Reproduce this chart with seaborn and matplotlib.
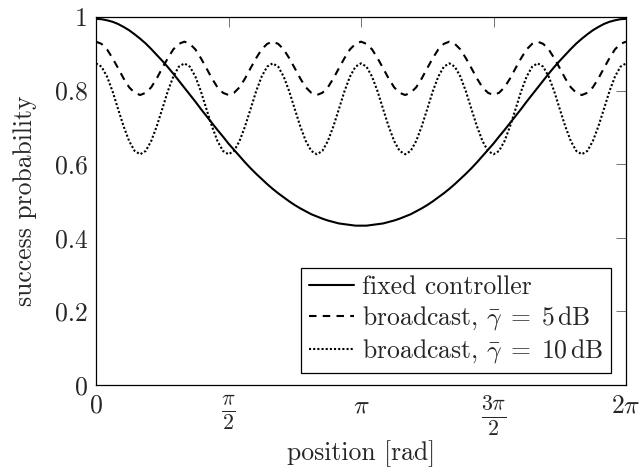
import numpy as np
import pandas as pd
import matplotlib
matplotlib.use("Agg")
import matplotlib.pyplot as plt
import seaborn as sns

# ---- data (positions 0..2pi, step pi/48) ----
n_points = 97
fixed_half = [0.995, 0.994, 0.991, 0.987, 0.981, 0.973, 0.964, 0.953, 0.941, 0.928,
              0.913, 0.897, 0.881, 0.864, 0.846, 0.827, 0.808, 0.789, 0.770, 0.750,
              0.731, 0.712, 0.693, 0.675, 0.656, 0.639, 0.622, 0.605, 0.589, 0.574,
              0.560, 0.546, 0.533, 0.521, 0.510, 0.499, 0.489, 0.480, 0.472, 0.464,
              0.458, 0.452, 0.447, 0.443, 0.439, 0.437, 0.435, 0.433, 0.433]
fixed_controller = fixed_half + fixed_half[-2::-1]

broadcast_5dB = [
    0.933, 0.927, 0.912, 0.888, 0.861, 0.833, 0.809, 0.794, 0.788, 0.794, 0.809, 0.833, 0.861, 0.888, 0.912, 0.927,
    0.933, 0.927, 0.912, 0.888, 0.861, 0.833, 0.809, 0.794, 0.788, 0.794, 0.809, 0.833, 0.861, 0.888, 0.912, 0.927,
    0.933, 0.927, 0.912, 0.888, 0.861, 0.833, 0.809, 0.794, 0.788, 0.794, 0.809, 0.833, 0.861, 0.888, 0.912, 0.927,
    0.933, 0.927, 0.912, 0.888, 0.861, 0.833, 0.809, 0.794, 0.788, 0.794, 0.809, 0.833, 0.861, 0.888, 0.912, 0.927,
    0.933, 0.927, 0.912, 0.888, 0.861, 0.833, 0.809, 0.794, 0.788, 0.794, 0.809, 0.833, 0.861, 0.888, 0.912, 0.927,
    0.933, 0.927, 0.912, 0.888, 0.861, 0.833, 0.809, 0.794, 0.788, 0.794, 0.809, 0.833, 0.861, 0.888, 0.912, 0.927,
    0.933]

broadcast_10dB = [
    0.874, 0.865, 0.838, 0.798, 0.750, 0.703, 0.663, 0.636, 0.627, 0.636, 0.663, 0.703, 0.750, 0.798, 0.838, 0.865,
    0.874, 0.865, 0.838, 0.798, 0.750, 0.703, 0.663, 0.636, 0.627, 0.636, 0.663, 0.703, 0.750, 0.798, 0.838, 0.865,
    0.874, 0.865, 0.838, 0.798, 0.750, 0.703, 0.663, 0.636, 0.627, 0.636, 0.663, 0.703, 0.750, 0.798, 0.838, 0.865,
    0.874, 0.865, 0.838, 0.798, 0.750, 0.703, 0.663, 0.636, 0.627, 0.636, 0.663, 0.703, 0.750, 0.798, 0.838, 0.865,
    0.874, 0.865, 0.838, 0.798, 0.750, 0.703, 0.663, 0.636, 0.627, 0.636, 0.663, 0.703, 0.750, 0.798, 0.838, 0.865,
    0.874, 0.865, 0.838, 0.798, 0.750, 0.703, 0.663, 0.636, 0.627, 0.636, 0.663, 0.703, 0.750, 0.798, 0.838, 0.865,
    0.874]

position = np.linspace(0, 2 * np.pi, n_points)

labels = ["fixed controller",
          r"broadcast, $\bar{\gamma}\;=\;5\,\mathrm{dB}$",
          r"broadcast, $\bar{\gamma}\;=\;10\,\mathrm{dB}$"]

x_ticks = [0, np.pi / 2, np.pi, 3 * np.pi / 2, 2 * np.pi]
x_tick_labels = [r"$0$", r"$\frac{\pi}{2}$", r"$\pi$", r"$\frac{3\pi}{2}$", r"$2\pi$"]
y_ticks = [0, 0.2, 0.4, 0.6, 0.8, 1.0]
y_tick_labels = ["0", "0.2", "0.4", "0.6", "0.8", "1"]

# ---- style ----
sns.set_theme(style="white")
plt.rcParams["font.family"] = ["cmr10", "DejaVu Serif"]
plt.rcParams["mathtext.fontset"] = "cm"
plt.rcParams["axes.formatter.use_mathtext"] = True
plt.rcParams["axes.unicode_minus"] = False
FS = 18.5

fig = plt.figure(figsize=(6.41, 4.72), dpi=100)
ax = fig.add_axes([96 / 641, 1 - 385 / 472, 530 / 641, 368 / 472])

lw = 1.5
sns.lineplot(x=position, y=fixed_controller, ax=ax, color="black", lw=lw,
             label=labels[0])
sns.lineplot(x=position, y=broadcast_5dB, ax=ax, color="black", lw=lw,
             linestyle=(0, (3.6, 3.0)), label=labels[1])
sns.lineplot(x=position, y=broadcast_10dB, ax=ax, color="black", lw=lw,
             linestyle=(0, (1.0, 1.0)), label=labels[2])

ax.set_xlim(0, 2 * np.pi)
ax.set_ylim(0, 1)
ax.set_xticks(x_ticks)
ax.set_xticklabels(x_tick_labels, fontsize=FS)
for lbl in ax.get_xticklabels():
    if "frac" in lbl.get_text():
        lbl.set_fontsize(FS * 1.22)
ax.set_yticks(y_ticks)
ax.set_yticklabels(y_tick_labels, fontsize=FS)
ax.tick_params(direction="in", top=True, right=True, length=7, width=0.7,
               color="0.45", pad=6)
for sp in ax.spines.values():
    sp.set_color("black")
    sp.set_linewidth(0.9)

ax.set_xlabel("position [rad]", fontsize=FS)
ax.xaxis.set_label_coords(0.5, -0.186)
ax.xaxis.label.set_va("center")
ax.set_ylabel("success probability", fontsize=FS)
ax.yaxis.set_label_coords(-0.134, 0.5)
ax.yaxis.label.set_va("center")

leg = ax.legend(loc="lower right", bbox_to_anchor=(0.9717, 0.0326),
                borderaxespad=0, fontsize=FS, frameon=True, fancybox=False,
                edgecolor="black", framealpha=1, handlelength=1.75,
                handletextpad=0.3, borderpad=0.3, labelspacing=0.2)
leg.get_frame().set_linewidth(0.9)

fig.savefig("out.png", dpi=100)
